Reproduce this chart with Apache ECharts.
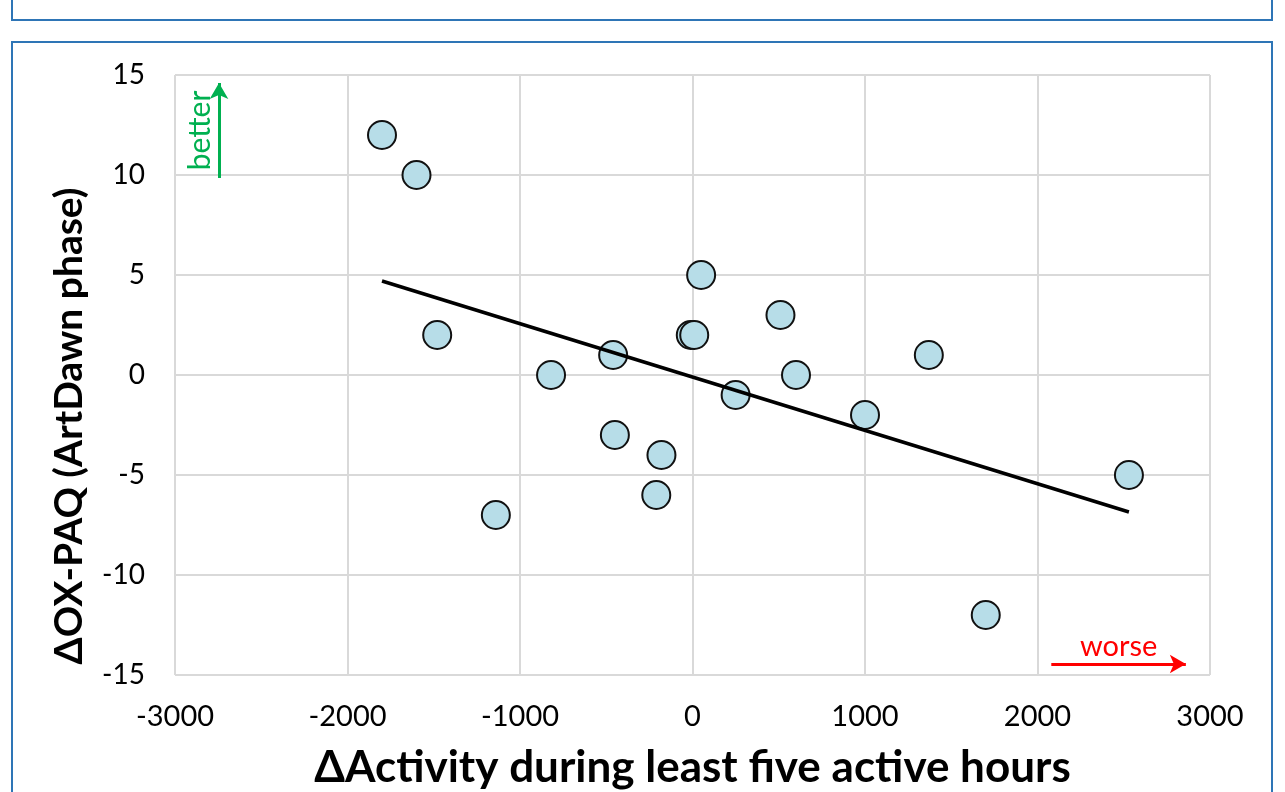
<!DOCTYPE html>
<html>
<head>
<meta charset="utf-8">
<script src="https://cdn.jsdelivr.net/npm/echarts@6/dist/echarts.min.js"></script>
<style>
html,body{margin:0;padding:0;background:#fff;}
#chart{width:1285px;height:792px;}
</style>
</head>
<body>
<div id="chart"></div>
<script>
// Data
const activityDelta = [-1800, -1600, -1480, -1140, -820, -460, -450, -210, -180, -10, 10, 50, 250, 510, 600, 1000, 1370, 1700, 2530];
const oxpaqDelta    = [12, 10, 2, -7, 0, 1, -3, -6, -4, 2, 2, 5, -1, 3, 0, -2, 1, -12, -5];
const trendX = [-1800, 2530];
const trendY = [4.7, -6.85];
const betterArrow = [[-2745, 9.85], [-2745, 14.6]];
const worseArrow = [[2080, -14.45], [2860, -14.45]];
const xTitle = 'ΔActivity during least five active hours';
const yTitle = 'ΔOX-PAQ (ArtDawn phase)';

const points = activityDelta.map((x, i) => [x, oxpaqDelta[i]]);
const trend = trendX.map((x, i) => [x, trendY[i]]);

const FONT = 'Lato, "Open Sans", sans-serif';
const chart = echarts.init(document.getElementById('chart'));
chart.setOption({
  animation: false,
  backgroundColor: '#fff',
  graphic: [
    {type: 'rect', shape: {x: 12, y: -20, width: 1260, height: 40}, style: {fill: 'none', stroke: '#2e75b6', lineWidth: 2}, silent: true},
    {type: 'rect', shape: {x: 12, y: 42, width: 1260, height: 780}, style: {fill: 'none', stroke: '#2e75b6', lineWidth: 2}, silent: true}
  ],
  grid: {left: 175, right: 75, top: 75, bottom: 117, containLabel: false, outerBoundsMode: 'none'},
  xAxis: {
    type: 'value', min: -3000, max: 3000, interval: 1000,
    name: xTitle, nameLocation: 'middle', nameGap: 71,
    nameTextStyle: {fontFamily: FONT, fontWeight: 'bold', fontSize: 44, color: '#000'},
    axisLine: {show: true, lineStyle: {color: '#d9d9d9', width: 2}},
    axisTick: {show: false},
    splitLine: {show: true, lineStyle: {color: '#d9d9d9', width: 2}},
    axisLabel: {fontFamily: FONT, fontSize: 29, color: '#000', margin: 27, formatter: v => String(v)}
  },
  yAxis: {
    type: 'value', min: -15, max: 15, interval: 5,
    name: yTitle, nameLocation: 'middle', nameGap: 86, nameRotate: 90,
    nameTextStyle: {fontFamily: FONT, fontWeight: 'bold', fontSize: 39, color: '#000', padding: [0, 102, 0, 0]},
    axisLine: {show: true, lineStyle: {color: '#d9d9d9', width: 2}},
    axisTick: {show: false},
    splitLine: {show: true, lineStyle: {color: '#d9d9d9', width: 2}},
    axisLabel: {fontFamily: FONT, fontSize: 28, color: '#000', margin: 30, formatter: v => String(v)}
  },
  series: [
    {
      type: 'scatter', data: points, symbolSize: 28, z: 2,
      itemStyle: {color: '#b7dde8', borderColor: '#111', borderWidth: 2, opacity: 1},
      markLine: {
        silent: true, symbol: ['none', 'arrow'], symbolSize: [14, 16],
        data: [
          [{coord: betterArrow[0], lineStyle: {color: '#00b050', width: 3, type: 'solid'},
            label: {show: true, formatter: 'better', position: 'insideMiddleTop', color: '#00b050', fontFamily: FONT, fontSize: 30, distance: 4}},
           {coord: betterArrow[1]}],
          [{coord: worseArrow[0], lineStyle: {color: '#ff0000', width: 3, type: 'solid'},
            label: {show: true, formatter: 'worse', position: 'insideMiddleTop', color: '#ff0000', fontFamily: FONT, fontSize: 29, distance: 3}},
           {coord: worseArrow[1]}]
        ]
      }
    },
    {
      type: 'line', data: trend, showSymbol: false, symbol: 'none', z: 3,
      lineStyle: {color: '#000', width: 3.5}
    }
  ]
});
</script>
</body>
</html>
